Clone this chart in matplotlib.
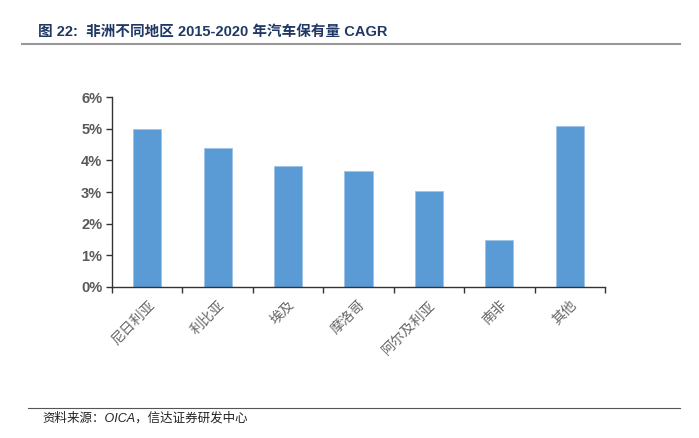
import matplotlib.pyplot as plt
from matplotlib.ticker import FuncFormatter

regions = ["尼日利亚", "利比亚", "埃及", "摩洛哥", "阿尔及利亚", "南非", "其他"]
cagr = [4.99, 4.39, 3.82, 3.67, 3.04, 1.48, 5.08]  # percent

CJK = ["Noto Sans CJK SC", "DejaVu Sans"]
MIXED = ["Liberation Sans", "Noto Sans CJK SC", "DejaVu Sans"]

fig = plt.figure(figsize=(6.99, 4.38), dpi=100)
ax = fig.add_axes([112 / 699, 1 - 287 / 438, (605 - 112) / 699, (287 - 97) / 438])

x = list(range(len(regions)))
ax.bar(x, cagr, width=0.40, color="#5B9BD5", edgecolor="#9DC3E6",
       linewidth=0.6, zorder=2)

ax.set_xlim(-0.5, len(regions) - 0.5)
ax.set_ylim(0, 6)
ax.set_yticks(range(0, 7))
ax.yaxis.set_major_formatter(FuncFormatter(lambda v, p: f"{v:.0f}%"))

# category boundary ticks on the x axis
ax.set_xticks([i - 0.5 for i in range(len(regions) + 1)])
ax.set_xticklabels([])
ax.set_xticks(x, minor=True)
ax.set_xticklabels(regions, minor=True, rotation=45, ha="right",
                   rotation_mode="anchor", family=CJK, fontsize=10,
                   color="#666666")
ax.tick_params(axis="x", which="minor", length=0, pad=8)
ax.tick_params(axis="x", which="major", length=4, direction="out",
               color="#333333", width=1.0)
ax.tick_params(axis="y", length=4, direction="out", color="#333333",
               width=1.0, pad=3)
for lbl in ax.get_yticklabels():
    lbl.set_family(MIXED)
    lbl.set_fontweight("bold")
    lbl.set_fontsize(10.5)
    lbl.set_color("#595959")

for side in ["top", "right"]:
    ax.spines[side].set_visible(False)
for side in ["left", "bottom"]:
    ax.spines[side].set_color("#333333")
    ax.spines[side].set_linewidth(1.0)

# header and footer
fig.text(38 / 699, 1 - 32 / 438, "图 22:  非洲不同地区 2015-2020 年汽车保有量 CAGR",
         family=MIXED, fontsize=10.5, fontweight="bold", color="#1F3864",
         va="center", ha="left")
fig.add_artist(plt.Line2D([22 / 699, 680 / 699], [1 - 44 / 438, 1 - 44 / 438],
                          color="#999999", linewidth=1.5))
fig.add_artist(plt.Line2D([28 / 699, 680 / 699], [1 - 408 / 438, 1 - 408 / 438],
                          color="#555555", linewidth=0.8))
fig.text(42 / 699, 1 - 418 / 438, "资料来源：OICA，信达证券研发中心",
         family=MIXED, fontsize=9, style="italic", color="#222222",
         va="center", ha="left")

fig.savefig("out.png", dpi=100)
